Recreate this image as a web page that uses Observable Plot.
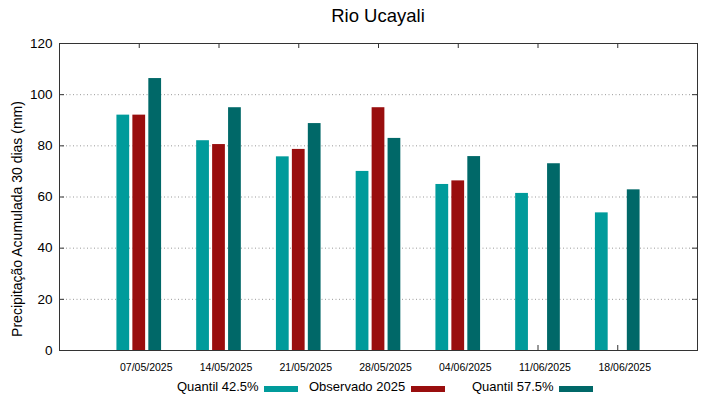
<!DOCTYPE html>
<html>
<head>
<meta charset="utf-8">
<script src="https://cdn.jsdelivr.net/npm/d3@7"></script>
<script src="https://cdn.jsdelivr.net/npm/@observablehq/plot@0.6"></script>
<style>
  html, body { margin: 0; padding: 0; background: #fff; }
  body { width: 719px; height: 399px; overflow: hidden; font-family: "Liberation Sans", Arial, sans-serif; }
  #title { height: 30px; position: relative; }
  #title span { position: absolute; left: 59px; width: 638px; text-align: center; top: 5px; font-size: 18.5px; color: #000; }
  #legend { position: relative; height: 24px; font-size: 13px; color: #000; }
  #legend .t { position: absolute; top: 4px; white-space: nowrap; }
  #legend .sw { position: absolute; top: 11px; width: 34px; height: 6px; }
</style>
</head>
<body>
<div id="title"><span>Rio Ucayali</span></div>
<div id="chart"></div>
<div id="legend"></div>
<script>
const dates = ["07/05/2025", "14/05/2025", "21/05/2025", "28/05/2025", "04/06/2025", "11/06/2025", "18/06/2025"];
const seriesNames = ["Quantil 42.5%", "Observado 2025", "Quantil 57.5%"];
const seriesColors = ["#009b9b", "#990e0e", "#006868"];
const q425 = [92.0, 82.0, 75.7, 70.0, 64.9, 61.4, 53.8];
const obs2025 = [92.0, 80.5, 78.6, 94.9, 66.3, null, null];
const q575 = [106.3, 94.9, 88.7, 82.9, 75.8, 73.0, 62.8];
const yTicks = [0, 20, 40, 60, 80, 100, 120];
const yLabel = "Precipitação Acumulada 30 dias (mm)";

const seriesValues = [q425, obs2025, q575];
const offsets = [-0.2, 0, 0.2];
const barW = 0.16;
const bars = [];
seriesValues.forEach((vals, s) => {
  vals.forEach((v, i) => {
    if (v != null) bars.push({i, s: seriesNames[s], off: offsets[s], v});
  });
});
const idx = dates.map((d, i) => i);

const W = 719, H = 345, mT = 13, mB = 25, mL = 59, mR = 22;
const pw = W - mL - mR, ph = H - mT - mB;
const tickLen = 5;
const frameColor = "#333";

const chart = Plot.plot({
  width: W, height: H,
  marginTop: mT, marginBottom: mB, marginLeft: mL, marginRight: mR,
  style: {fontFamily: "'Liberation Sans', Arial, sans-serif", background: "#fff", color: "#000"},
  x: {type: "linear", domain: [-1, 7]},
  y: {domain: [0, 120]},
  color: {domain: seriesNames, range: seriesColors},
  marks: [
    Plot.ruleY(yTicks.filter(t => t > 0 && t < 120), {y: d => d, stroke: "#999", strokeDasharray: "1,2.5", strokeWidth: 1}),
    // inward ticks left & right
    Plot.ruleY(yTicks, {y: d => d, insetRight: pw - tickLen, stroke: frameColor}),
    Plot.ruleY(yTicks, {y: d => d, insetLeft: pw - tickLen, stroke: frameColor}),
    // inward ticks bottom & top
    Plot.ruleX(idx, {x: d => d, insetTop: ph - tickLen, stroke: frameColor}),
    Plot.ruleX(idx, {x: d => d, insetBottom: ph - tickLen, stroke: frameColor}),
    Plot.rect(bars, {x1: d => d.i + d.off - barW / 2, x2: d => d.i + d.off + barW / 2, y1: 0, y2: d => d.v, fill: "s"}),
    Plot.frame({stroke: frameColor, strokeWidth: 1}),
    Plot.axisY({ticks: yTicks, tickSize: 0, tickPadding: 7, fontSize: 13.5, label: null, tickFormat: d => String(d)}),
    Plot.axisX({ticks: idx, tickSize: 0, tickPadding: 13, fontSize: 10.5, dx: 7, label: null, tickFormat: i => dates[i]}),
    Plot.text([yLabel], {text: d => d, frameAnchor: "left", rotate: -90, dx: -42, dy: 22, fontSize: 14, fill: "#000", textAnchor: "middle", lineAnchor: "middle"})
  ]
});
document.getElementById("chart").appendChild(chart);

const legend = document.getElementById("legend");
const legendX = [[177, 264], [309, 411], [472, 559]];
seriesNames.forEach((n, k) => {
  const t = document.createElement("span");
  t.className = "t"; t.textContent = n; t.style.left = legendX[k][0] + "px";
  legend.appendChild(t);
  const sw = document.createElement("span");
  sw.className = "sw"; sw.style.left = legendX[k][1] + "px"; sw.style.background = seriesColors[k];
  legend.appendChild(sw);
});
</script>
</body>
</html>
